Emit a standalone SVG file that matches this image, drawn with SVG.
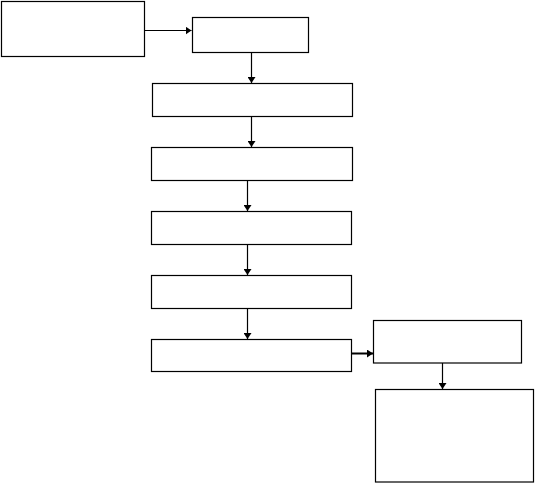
<svg xmlns="http://www.w3.org/2000/svg" width="535" height="483" viewBox="0 0 535 483">
<style>
.box{fill:#fff;stroke:#000;stroke-width:1.2}
.c{stroke:#000;stroke-width:1.2;fill:none;marker-end:url(#ah)}
</style>
<defs>
<marker id="ah" markerWidth="8" markerHeight="8" refX="6" refY="4" orient="auto" markerUnits="userSpaceOnUse">
<path d="M0,0 L6,4 L0,8 Z" fill="#000"/>
</marker>
</defs>
<rect width="535" height="483" fill="#fff"/>
<g id="connectors">
<line class="c" x1="144.5" y1="30.5" x2="191.5" y2="30.5"/>
<line class="c" x1="251.5" y1="52.5" x2="251.5" y2="83"/>
<line class="c" x1="251.5" y1="116.5" x2="251.5" y2="147"/>
<line class="c" x1="247.5" y1="180.5" x2="247.5" y2="211"/>
<line class="c" x1="247.5" y1="244.5" x2="247.5" y2="275"/>
<line class="c" x1="247.5" y1="308.5" x2="247.5" y2="339"/>
<line class="c" x1="351.5" y1="353.5" x2="373" y2="353.5" style="stroke-width:2"/>
<line class="c" x1="442.5" y1="363" x2="442.5" y2="389"/>
</g>
<g id="n1"><rect class="box" x="1.5" y="1.5" width="143" height="55"/></g>
<g id="n2"><rect class="box" x="192.5" y="17.5" width="116" height="35"/></g>
<g id="n3"><rect class="box" x="152.5" y="83.5" width="200" height="33"/></g>
<g id="n4"><rect class="box" x="151.5" y="147.5" width="201" height="33"/></g>
<g id="n5"><rect class="box" x="151.5" y="211.5" width="200" height="33"/></g>
<g id="n6"><rect class="box" x="151.5" y="275.5" width="200" height="33"/></g>
<g id="n7"><rect class="box" x="151.5" y="339.5" width="200" height="32"/></g>
<g id="n8"><rect class="box" x="373.5" y="320.5" width="148" height="42.5"/></g>
<g id="n9"><rect class="box" x="375.5" y="389.5" width="158" height="92.5"/></g>
</svg>
